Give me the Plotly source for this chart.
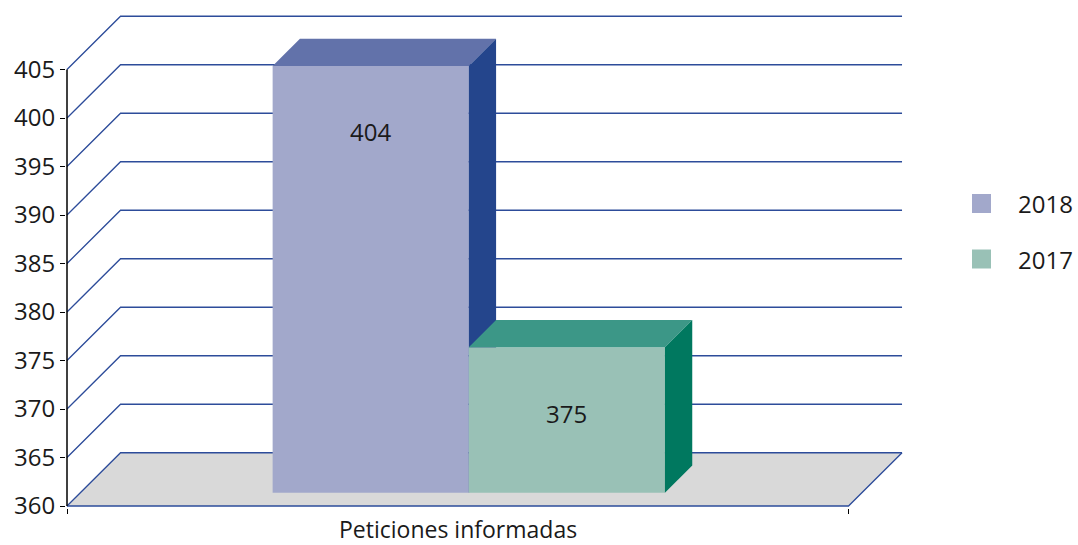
import plotly.graph_objects as go

# ---------------- data ----------------
category = "Peticiones informadas"
series_names = ["2018", "2017"]
series_values = [404, 375]
y_ticks = [360, 365, 370, 375, 380, 385, 390, 395, 400, 405]

# ---------------- styles ----------------
front_colors = ["#A2A8CB", "#99C1B6"]
top_colors = ["#6272AA", "#3C9787"]
side_colors = ["#24458C", "#00785F"]
GRID = "#2D4C9A"
FLOOR = "#D9D9D9"
TEXT = "#1A1A1A"
FONT = "Open Sans"
FS = 24

# oblique (pseudo 3-D) projection, in axis units
DX = 0.0685          # depth offset along x
DY = 5.49            # depth offset along y
F1, F2 = 0.25, 0.76  # front/back depth fraction of the bars
BAR_W = 0.251
GROUP_SHIFT = -0.003
Y0 = y_ticks[0]

# figure geometry
W, H = 1078, 545
ML, MR, MT, MB = 66, 174, 14, 37
PX_X = 781.5   # pixels per x unit
PX_Y = 9.7     # pixels per y unit
xlo = -0.5 - 1 / PX_X
xhi = xlo + (W - ML - MR) / PX_X
ylo = Y0 - 2 / PX_Y
yhi = ylo + (H - MT - MB) / PX_Y


def paper_x(px):
    return (px - ML) / (W - ML - MR)


def paper_y(py):
    return (H - MB - py) / (H - MT - MB)


fig = go.Figure()

# floor
fx = [-0.5, 0.5, 0.5 + DX, -0.5 + DX, -0.5]
fy = [Y0, Y0, Y0 + DY, Y0 + DY, Y0]
fig.add_trace(go.Scatter(x=fx, y=fy, fill="toself", fillcolor=FLOOR,
                         mode="lines", line=dict(width=0), hoverinfo="skip"))

# wall gridlines (left diagonal + back wall)
gx, gy = [], []
for t in y_ticks:
    gx += [-0.5, -0.5 + DX, 0.5 + DX, None]
    gy += [t, t + DY, t + DY, None]
# floor front edge and right diagonal
gx += [-0.5, 0.5, 0.5 + DX, None]
gy += [Y0, Y0, Y0 + DY, None]
fig.add_trace(go.Scatter(x=gx, y=gy, mode="lines",
                         line=dict(color=GRID, width=1.3), hoverinfo="skip"))

# y axis line
fig.add_trace(go.Scatter(x=[-0.5, -0.5], y=[y_ticks[0], y_ticks[-1]], mode="lines",
                         line=dict(color="#000000", width=1.5), hoverinfo="skip"))

# bars
ddx = (F2 - F1) * DX
ddy = (F2 - F1) * DY
n = len(series_values)
annotations = []
for i, (name, v) in enumerate(zip(series_names, series_values)):
    x0 = -BAR_W * n / 2 + i * BAR_W + F1 * DX + GROUP_SHIFT
    x1 = x0 + BAR_W
    b = Y0 + F1 * DY
    top = v + F1 * DY
    # front
    fig.add_trace(go.Scatter(x=[x0, x1, x1, x0, x0], y=[b, b, top, top, b],
                             fill="toself", fillcolor=front_colors[i], mode="lines",
                             line=dict(width=0), name=name, hoverinfo="skip"))
    # top
    fig.add_trace(go.Scatter(x=[x0, x1, x1 + ddx, x0 + ddx, x0],
                             y=[top, top, top + ddy, top + ddy, top],
                             fill="toself", fillcolor=top_colors[i], mode="lines",
                             line=dict(width=0), hoverinfo="skip"))
    # side
    fig.add_trace(go.Scatter(x=[x1, x1 + ddx, x1 + ddx, x1, x1],
                             y=[b, b + ddy, top + ddy, top, b],
                             fill="toself", fillcolor=side_colors[i], mode="lines",
                             line=dict(width=0), hoverinfo="skip"))
    annotations.append(dict(x=(x0 + x1) / 2, y=top, xref="x", yref="y",
                            text=str(v), showarrow=False, yshift=-66,
                            font=dict(family=FONT, size=FS, color=TEXT)))

# category label
annotations.append(dict(x=0, y=Y0, xref="x", yref="y", text=category,
                        showarrow=False, yshift=-23,
                        font=dict(family=FONT, size=FS - 1, color=TEXT)))

# legend (manual, squares + labels)
shapes = []
for i, name in enumerate(series_names):
    cy = 203.5 + i * 55.5
    shapes.append(dict(type="rect", xref="paper", yref="paper",
                       x0=paper_x(972), x1=paper_x(991),
                       y0=paper_y(cy + 9.5), y1=paper_y(cy - 9.5),
                       fillcolor=front_colors[i], line=dict(width=0)))
    annotations.append(dict(x=paper_x(1016), y=paper_y(cy), xref="paper", yref="paper",
                            text=name, showarrow=False, xanchor="left", yanchor="middle",
                            font=dict(family=FONT, size=FS, color=TEXT)))

fig.update_layout(
    width=W, height=H, autosize=False,
    margin=dict(l=ML, r=MR, t=MT, b=MB, pad=0),
    plot_bgcolor="white", paper_bgcolor="white",
    showlegend=False,
    annotations=annotations, shapes=shapes,
    xaxis=dict(range=[xlo, xhi], showgrid=False, zeroline=False, showline=False,
               tickvals=[-0.5, 0.5], ticktext=["", ""], ticks="outside",
               ticklen=5, tickcolor="#000000", tickwidth=1.3, fixedrange=True),
    yaxis=dict(range=[ylo, yhi], showgrid=False, zeroline=False, showline=False,
               tickvals=y_ticks, ticktext=[str(t) for t in y_ticks],
               ticks="outside", ticklen=5, tickcolor="#000000", tickwidth=1.3,
               tickfont=dict(family=FONT, size=FS, color=TEXT), fixedrange=True),
)

fig.write_html(
    "out.html",
    config={"displayModeBar": False},
    post_script="document.body.style.margin='0px';document.body.style.overflow='hidden';",
)
